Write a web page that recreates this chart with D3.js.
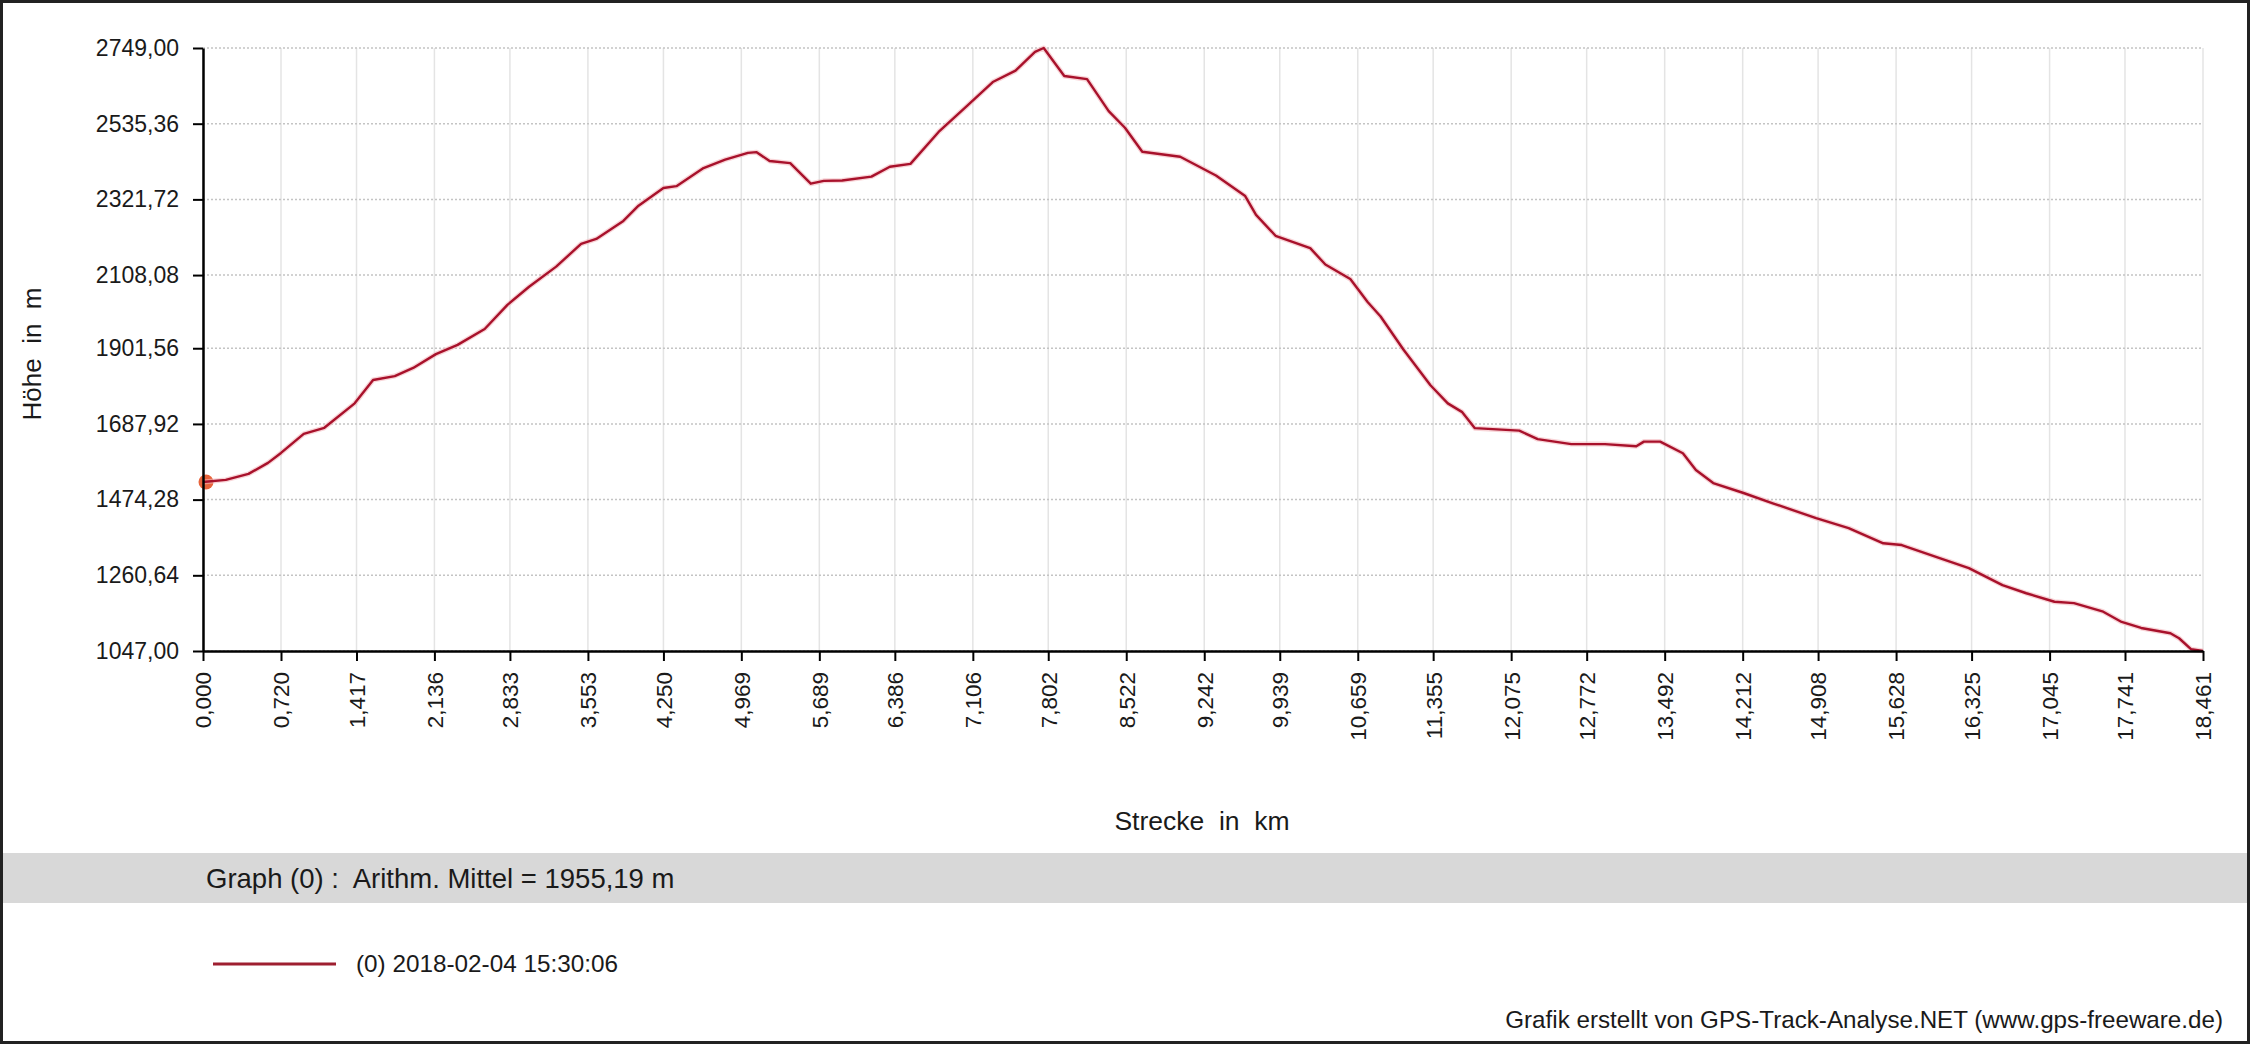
<!DOCTYPE html>
<html>
<head>
<meta charset="utf-8">
<script src="https://cdn.jsdelivr.net/npm/d3@7"></script>
<style>
  html, body { margin: 0; padding: 0; background: #fff; }
  svg { display: block; }
  text { font-family: "Liberation Sans", Arial, sans-serif; fill: #1a1a1a; white-space: pre; }
</style>
</head>
<body>
<svg id="chart" width="2250" height="1044"></svg>
<script>
// ---- data ----
const distKm = [0.00,0.21,0.42,0.60,0.72,0.93,1.12,1.40,1.57,1.77,1.94,2.15,2.35,2.60,2.81,3.01,3.26,3.49,3.63,3.88,4.02,4.25,4.37,4.62,4.82,5.03,5.11,5.23,5.42,5.61,5.73,5.90,6.17,6.34,6.53,6.79,7.04,7.29,7.50,7.68,7.76,7.95,8.16,8.36,8.51,8.67,9.02,9.35,9.62,9.72,9.90,10.22,10.36,10.59,10.75,10.87,11.08,11.33,11.49,11.62,11.74,12.15,12.32,12.63,12.94,13.23,13.30,13.45,13.66,13.78,13.94,14.22,14.49,14.89,15.19,15.51,15.68,16.03,16.30,16.61,16.83,17.09,17.27,17.54,17.71,17.89,18.16,18.24,18.35,18.461];
const elevM  = [1524,1530,1547,1578,1606,1660,1677,1746,1812,1823,1846,1885,1911,1956,2024,2075,2132,2196,2210,2261,2304,2354,2359,2410,2434,2453,2455,2430,2424,2366,2374,2375,2386,2414,2422,2512,2582,2653,2685,2738,2749,2670,2661,2571,2524,2456,2442,2389,2331,2278,2219,2184,2138,2097,2032,1991,1898,1797,1746,1722,1676,1669,1645,1631,1631,1625,1638,1638,1605,1558,1521,1493,1464,1422,1394,1351,1346,1309,1281,1233,1210,1186,1182,1158,1129,1112,1097,1083,1052,1047];

const xTickValues = [0.000,0.720,1.417,2.136,2.833,3.553,4.250,4.969,5.689,6.386,7.106,7.802,8.522,9.242,9.939,10.659,11.355,12.075,12.772,13.492,14.212,14.908,15.628,16.325,17.045,17.741,18.461];
const yTickValues = [1047.00,1260.64,1474.28,1687.92,1901.56,2108.08,2321.72,2535.36,2749.00];

const yTitle = "Höhe  in  m";
const xTitle = "Strecke  in  km";
const statText = "Graph (0) :  Arithm. Mittel = 1955,19 m";
const legendLabel = "(0) 2018-02-04 15:30:06";
const footerText = "Grafik erstellt von GPS-Track-Analyse.NET (www.gps-freeware.de)";

// ---- layout ----
const W = 2250, H = 1044;
const plot = { left: 203, right: 2203, top: 48, bottom: 651 };
const lineColor = "#a8112b";

const svg = d3.select("#chart");
svg.append("rect").attr("x", 0).attr("y", 0).attr("width", W).attr("height", H).attr("fill", "#fff");

const x = d3.scaleLinear().domain([0, 18.461]).range([plot.left, plot.right]);
const y = d3.scaleLinear().domain([1047, 2749]).range([plot.bottom, plot.top]);

const fmt = (v, d) => v.toFixed(d).replace(".", ",");

// gridlines
const grid = svg.append("g");
grid.selectAll("line.v").data(xTickValues).join("line")
  .attr("x1", d => x(d)).attr("x2", d => x(d))
  .attr("y1", plot.top).attr("y2", plot.bottom)
  .attr("stroke", "#e4e4e4").attr("stroke-width", 1.5);
grid.selectAll("line.h").data(yTickValues).join("line")
  .attr("x1", plot.left).attr("x2", plot.right)
  .attr("y1", d => y(d)).attr("y2", d => y(d))
  .attr("stroke", "#c4c4c4").attr("stroke-width", 1.5)
  .attr("stroke-dasharray", "2,2");

// start marker
svg.append("circle").attr("cx", x(distKm[0]) + 3).attr("cy", y(elevM[0]))
  .attr("r", 7.5).attr("fill", "#e8643c");

// line (soft halo + core)
const pts = distKm.map((d, i) => [d, elevM[i]]);
const lineGen = d3.line().x(d => x(d[0])).y(d => y(d[1]));
svg.append("path").datum(pts)
  .attr("fill", "none").attr("stroke", "#f3b8bd").attr("stroke-opacity", 0.6).attr("stroke-width", 5)
  .attr("stroke-linejoin", "round").attr("d", lineGen);
svg.append("path").datum(pts)
  .attr("fill", "none").attr("stroke", lineColor).attr("stroke-width", 2.4)
  .attr("stroke-linejoin", "round").attr("d", lineGen);

// axes
const yAxis = svg.append("g").attr("transform", `translate(${plot.left},0)`)
  .call(d3.axisLeft(y).tickValues(yTickValues).tickFormat(d => fmt(d, 2)).tickSize(10).tickPadding(14).tickSizeOuter(0));
const xAxis = svg.append("g").attr("transform", `translate(0,${plot.bottom})`)
  .call(d3.axisBottom(x).tickValues(xTickValues).tickFormat(d => fmt(d, 3)).tickSize(10).tickSizeOuter(0));

[yAxis, xAxis].forEach(g => {
  g.select(".domain").attr("stroke", "#000").attr("stroke-width", 2.5);
  g.selectAll(".tick line").attr("stroke", "#000").attr("stroke-width", 2);
  g.selectAll(".tick text").attr("fill", "#1a1a1a")
    .attr("font-family", '"Liberation Sans", Arial, sans-serif');
});
yAxis.selectAll(".tick text").attr("font-size", 23);
xAxis.selectAll(".tick text")
  .attr("font-size", 22.5)
  .attr("transform", "rotate(-90)")
  .attr("text-anchor", "end")
  .attr("x", -21).attr("y", 0).attr("dy", "0.35em");

// axis titles
svg.append("text").attr("transform", "translate(41,354) rotate(-90)")
  .attr("text-anchor", "middle").attr("font-size", 26).text(yTitle);
svg.append("text").attr("x", 1202).attr("y", 830)
  .attr("text-anchor", "middle").attr("font-size", 26.5).text(xTitle);

// stats band
svg.append("rect").attr("x", 0).attr("y", 853).attr("width", W).attr("height", 50).attr("fill", "#d8d8d8");
svg.append("text").attr("x", 206).attr("y", 888).attr("font-size", 27.5).text(statText);

// legend
svg.append("line").attr("x1", 213).attr("x2", 336).attr("y1", 964).attr("y2", 964)
  .attr("stroke", "#9e1f30").attr("stroke-width", 3);
svg.append("text").attr("x", 356).attr("y", 972).attr("font-size", 24.3).text(legendLabel);

// footer
svg.append("text").attr("x", 2223).attr("y", 1028).attr("text-anchor", "end").attr("font-size", 24.2).text(footerText);

// frame
svg.append("rect").attr("x", 1.5).attr("y", 1.5).attr("width", W - 3).attr("height", H - 3)
  .attr("fill", "none").attr("stroke", "#222").attr("stroke-width", 3);
</script>
</body>
</html>
